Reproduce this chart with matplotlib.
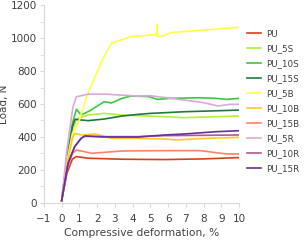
import numpy as np
import matplotlib
matplotlib.use("Agg")
import matplotlib.pyplot as plt

# strain (%) / load (N)
x_pu = [0, 0.3, 0.6, 0.83, 1.5, 3.4, 5.8, 8, 10]
y_pu = [14, 180, 265, 281, 271, 265, 263, 267, 275]

x_5s = [0, 0.3, 0.6, 0.8, 0.92, 1.5, 2.4, 3.4, 5.8, 6.9, 10]
y_5s = [14, 250, 440, 500, 513, 533, 543, 533, 523, 517, 527]

x_10s = [0, 0.3, 0.6, 0.83, 1.1, 1.6, 2.4, 2.8, 3.4, 3.9, 4.9, 5.4, 6.1, 7.8, 8.7, 9.3, 10]
y_10s = [14, 270, 480, 568, 533, 560, 614, 606, 634, 648, 645, 628, 634, 638, 634, 628, 634]

x_15s = [0, 0.3, 0.6, 0.75, 1.1, 1.5, 2.4, 3.4, 4.3, 5.0, 6.9, 10]
y_15s = [14, 260, 460, 507, 503, 499, 509, 527, 537, 543, 553, 563]

x_5b = [0, 0.3, 0.6, 1.0, 1.4, 1.8, 2.3, 2.8, 3.9, 5.35, 5.37, 5.4, 5.7, 6.2, 8, 10]
y_5b = [14, 250, 420, 503, 644, 745, 870, 968, 1008, 1022, 1085, 1008, 1012, 1034, 1048, 1065]

x_10b = [0, 0.3, 0.6, 0.73, 1.1, 1.9, 2.8, 4.3, 5.8, 6.5, 7.8, 10]
y_10b = [14, 230, 390, 422, 412, 418, 392, 392, 388, 382, 390, 398]

x_15b = [0, 0.3, 0.6, 0.83, 1.7, 3.4, 5.8, 7.8, 9.3, 10]
y_15b = [14, 200, 300, 321, 301, 315, 317, 317, 297, 297]

x_5r = [0, 0.3, 0.64, 0.83, 1.5, 2.4, 4.3, 5.0, 6.9, 8.0, 8.8, 9.5, 10]
y_5r = [14, 330, 584, 644, 660, 660, 648, 650, 624, 608, 588, 598, 598]

x_10r = [0, 0.36, 0.73, 1.1, 1.3, 2.4, 4.3, 5.8, 8, 10]
y_10r = [14, 240, 341, 392, 404, 402, 402, 408, 410, 412]

x_15r = [0, 0.36, 0.73, 1.1, 1.3, 2.4, 4.3, 5.8, 6.9, 8.7, 10]
y_15r = [14, 240, 341, 392, 406, 400, 400, 412, 418, 432, 438]

series = [
    ("PU", x_pu, y_pu, "#D8401A"),
    ("PU_5S", x_5s, y_5s, "#B2F03C"),
    ("PU_10S", x_10s, y_10s, "#3CC83C"),
    ("PU_15S", x_15s, y_15s, "#1E7A3C"),
    ("PU_5B", x_5b, y_5b, "#FFFF46"),
    ("PU_10B", x_10b, y_10b, "#FFC828"),
    ("PU_15B", x_15b, y_15b, "#FF8464"),
    ("PU_5R", x_5r, y_5r, "#DCA8DC"),
    ("PU_10R", x_10r, y_10r, "#B45A8C"),
    ("PU_15R", x_15r, y_15r, "#6432A0"),
]

plt.rcParams["font.family"] = "DejaVu Sans"

fig = plt.figure(figsize=(3.05, 2.41), dpi=100)
ax = fig.add_axes([0.144, 0.158, 0.64, 0.821])

for name, xs, ys, c in series:
    ax.plot(xs, ys, color=c, lw=1.2, label=name)

ax.set_xlim(-1, 10)
ax.set_ylim(0, 1200)
ax.set_xticks(range(-1, 11))
ax.set_yticks(range(0, 1201, 200))
ax.set_yticks(range(100, 1200, 200), minor=True)

for s in ["top", "right"]:
    ax.spines[s].set_visible(False)
for s in ["left", "bottom"]:
    ax.spines[s].set_color("#D9D9D9")
    ax.spines[s].set_linewidth(0.8)
ax.tick_params(axis="both", which="both", color="#D9D9D9", labelsize=7.5, length=3, pad=2, labelcolor="#404040")
ax.tick_params(axis="x", pad=5)

ax.set_xlabel("Compressive deformation, %", fontsize=7.7, color="#404040", labelpad=3)
ax.set_ylabel("Load, N", fontsize=7.5, color="#404040", labelpad=1)

ax.legend(loc="upper left", bbox_to_anchor=(1.02, 0.894), frameon=False, fontsize=6.3,
          handlelength=1.7, handletextpad=0.5, labelspacing=0.68, labelcolor="#404040",
          borderaxespad=0.0)

plt.savefig("out.png", dpi=100)
